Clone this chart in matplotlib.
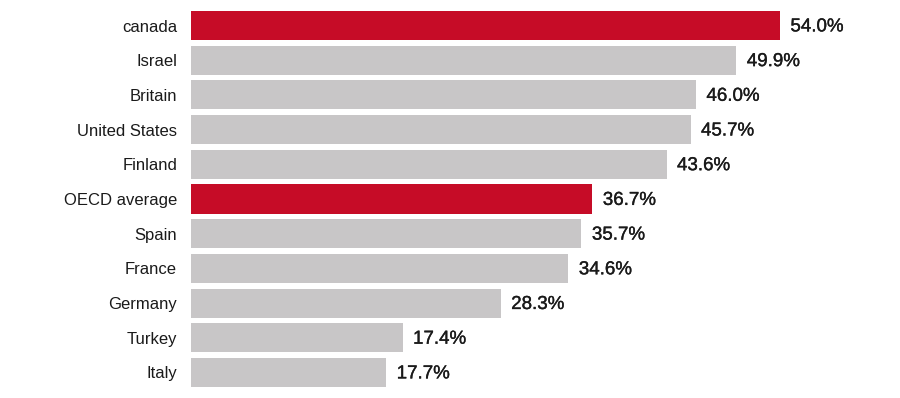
import matplotlib.pyplot as plt
import matplotlib.patheffects as pe

countries = ['canada', 'Israel', 'Britain', 'United States', 'Finland', 'OECD average',
             'Spain', 'France', 'Germany', 'Turkey', 'Italy']
values = [54.0, 49.9, 46.0, 45.7, 43.6, 36.7, 35.7, 34.6, 28.3, 17.4, 17.7]
# bar lengths as drawn in the picture (Turkey's bar is drawn longer than its label)
bar_lengths = [54.0, 50.0, 46.3, 45.8, 43.6, 36.8, 35.8, 34.6, 28.4, 19.4, 17.9]
highlight = ['canada', 'OECD average']

red = '#c60c27'
grey = '#c8c6c7'
colors = [red if c in highlight else grey for c in countries]

plt.rcParams['font.family'] = ['Liberation Sans', 'DejaVu Sans']

fig = plt.figure(figsize=(9, 3.98), dpi=100)
ax = fig.add_axes([191 / 900, 0.0205, 1 - 191 / 900, 0.959])

y = list(range(len(countries)))
ax.barh(y, bar_lengths, height=0.84, color=colors)

# value labels are a bit heavier than the category names
heavier = [pe.withStroke(linewidth=0.25, foreground='#1a1a1a')]
for yi, length, val in zip(y, bar_lengths, values):
    ax.annotate(f'{val:.1f}%', xy=(length, yi), xytext=(7.5, -1), textcoords='offset points',
                va='center', ha='left', fontsize=13.5, color='#1a1a1a', path_effects=heavier)

ax.set_yticks(y)
ax.set_yticklabels(countries, fontsize=12, color='#1a1a1a')
ax.tick_params(axis='y', length=0, pad=10)
ax.set_xticks([])
ax.set_xlim(0, 65)
ax.set_ylim(len(countries) - 0.5, -0.5)
for s in ax.spines.values():
    s.set_visible(False)

fig.savefig('out.png', dpi=100)
